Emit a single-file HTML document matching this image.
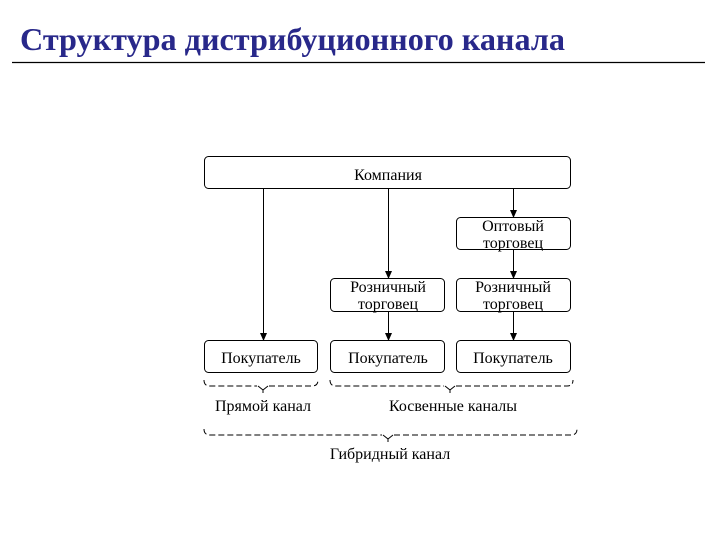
<!DOCTYPE html>
<html><head><meta charset="utf-8"><style>
html,body{margin:0;padding:0;background:#fff;}
svg{display:block;}
</style></head><body>
<svg width="720" height="540" viewBox="0 0 720 540" xmlns="http://www.w3.org/2000/svg">
<defs>
<marker id="ar" markerWidth="8" markerHeight="8" refX="7" refY="4" orient="auto" markerUnits="userSpaceOnUse">
<path d="M0,0.5 L8,4 L0,7.5 z" fill="#000"/>
</marker>
</defs>
<text x="20" y="50" font-family="Liberation Serif, serif" font-weight="bold" font-size="32" fill="#28288a" textLength="545" lengthAdjust="spacingAndGlyphs">Структура дистрибуционного канала</text>
<line x1="12" y1="62.5" x2="705" y2="62.5" stroke="#000" stroke-width="1.2"/>

<g fill="none" stroke="#000" stroke-width="1">
<rect x="204.5" y="156.5" width="366" height="32" rx="4"/>
<rect x="456.5" y="217.5" width="114" height="32" rx="4"/>
<rect x="330.5" y="278.5" width="114" height="33" rx="4"/>
<rect x="456.5" y="278.5" width="114" height="33" rx="4"/>
<rect x="204.5" y="340.5" width="113" height="32" rx="4"/>
<rect x="330.5" y="340.5" width="114" height="32" rx="4"/>
<rect x="456.5" y="340.5" width="114" height="32" rx="4"/>
<line x1="263.5" y1="189" x2="263.5" y2="340" marker-end="url(#ar)"/>
<line x1="388.5" y1="189" x2="388.5" y2="278" marker-end="url(#ar)"/>
<line x1="513.5" y1="189" x2="513.5" y2="217" marker-end="url(#ar)"/>
<line x1="513.5" y1="250" x2="513.5" y2="278" marker-end="url(#ar)"/>
<line x1="388.5" y1="312" x2="388.5" y2="340" marker-end="url(#ar)"/>
<line x1="513.5" y1="312" x2="513.5" y2="340" marker-end="url(#ar)"/>
</g>

<g font-family="Liberation Serif, serif" font-size="16" fill="#000" text-anchor="middle">
<text x="388" y="180">Компания</text>
<text x="513" y="231">Оптовый</text>
<text x="513" y="248">торговец</text>
<text x="388" y="292">Розничный</text>
<text x="388" y="309">торговец</text>
<text x="513" y="292">Розничный</text>
<text x="513" y="309">торговец</text>
<text x="261" y="363">Покупатель</text>
<text x="388" y="363">Покупатель</text>
<text x="513" y="363">Покупатель</text>
<text x="263" y="411">Прямой канал</text>
<text x="453" y="411">Косвенные каналы</text>
<text x="390" y="459">Гибридный канал</text>
</g>

<g fill="none" stroke="#000" stroke-width="1">
<path d="M204,380 Q204,386 210,386 L257,386 M269,386 L312,386 Q318,386 318,380" stroke-dasharray="6,3"/>
<path d="M258,386 L263,390 L268,386 M263,390 L263,393"/>
<path d="M330,380 Q330,386 336,386 L444,386 M456,386 L567,386 Q573,386 573,380" stroke-dasharray="6,3"/>
<path d="M445,386 L450,390 L455,386 M450,390 L450,393"/>
<path d="M204,429 Q204,435 210,435 L382,435 M394,435 L571,435 Q577,435 577,429" stroke-dasharray="6,3"/>
<path d="M383,435 L388,439 L393,435 M388,439 L388,442"/>
</g>
</svg>
</body></html>
